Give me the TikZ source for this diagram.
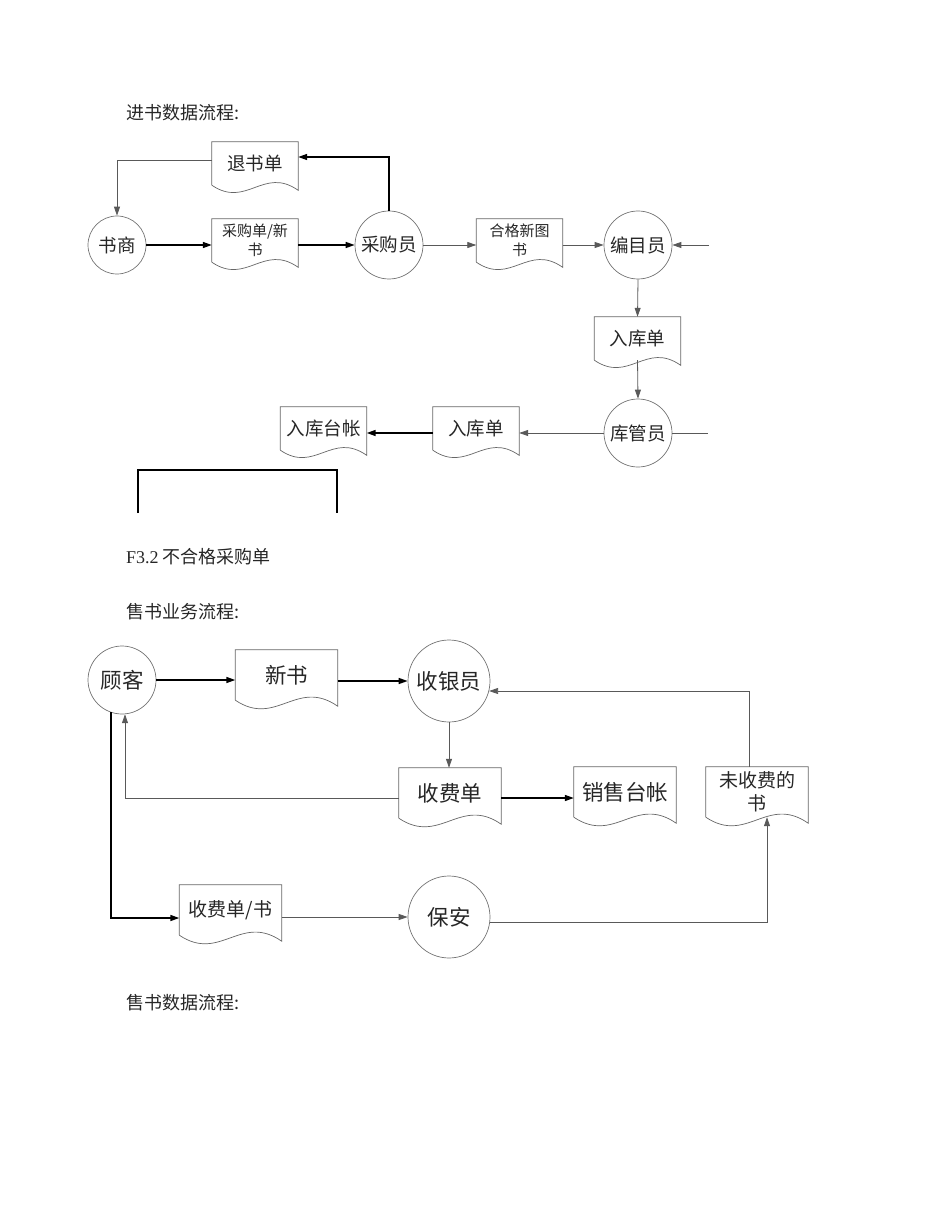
\documentclass[tikz,border=0pt]{standalone}
\usepackage{fontspec}
\setmainfont{Noto Sans CJK SC}
\newfontfamily\serifen{Liberation Serif}
\usetikzlibrary{arrows.meta, calc}

% document symbol: straight top and sides, wavy bottom
\newcommand{\docwave}[2]{%
  \draw[docline] (#1.south west) -- (#1.north west) -- (#1.north east)
    -- ([yshift=-0.12*#2pt]#1.south east)
    .. controls ($(#1.south west)!0.6!(#1.south east)+(0pt,0.45*#2pt)$)
    and ($(#1.south west)!0.4!(#1.south east)+(0pt,-0.55*#2pt)$) .. (#1.south west);}

\begin{document}
\begin{tikzpicture}[x=1pt, y=-1pt,
    every node/.style={text=black!85},
    title/.style={anchor=west, inner sep=0pt, font=\fontsize{18}{20}\selectfont},
    proc/.style={circle, draw=black!55, line width=0.7pt, minimum size=#1, inner sep=0pt, font=\fontsize{18.5}{21}\selectfont},
    bproc/.style={proc=#1, font=\fontsize{21.5}{24}\selectfont},
    docu/.style={minimum width=86pt, minimum height=43pt, inner sep=0pt, align=center, font=\fontsize{18.5}{21}\selectfont},
    bdocu/.style={docu, minimum width=102pt, minimum height=50pt, font=\fontsize{21.5}{24}\selectfont},
    small/.style={font=\fontsize{15}{19}\selectfont},
    mid/.style={font=\fontsize{19}{23}\selectfont},
    docline/.style={draw=black!60, line width=0.7pt},
    arr/.style={-{Triangle[length=9pt,width=6pt]}, line width=0.8pt, black!65},
    arrk/.style={arr, line width=1.5pt, black},
    ln/.style={line width=0.8pt, black!65}
]
\useasboundingbox (0,0) rectangle (950,1230);

\node[title] (t1) at (126,113) {进书数据流程:};
\node[title] (t2) at (126,557) {{\serifen F3.2} 不合格采购单};
\node[title] (t3) at (126,612) {售书业务流程:};
\node[title] (t4) at (126,1003) {售书数据流程:};

% purchase flow
\node[proc=58] (shushang) at (117,245) {书商};
\node[docu] (tuishu) at (255,163.5) {退书单};
\node[docu, small] (caigoudan) at (255,240.5) {采购单/新\\书};
\node[proc=68] (caigouyuan) at (389,245) {采购员};
\node[docu, small] (hege) at (519.5,240.5) {合格新图\\书};
\node[proc=68] (bianmu) at (638,245) {编目员};
\coordinate (bianmuIn) at (709,245);
\node[docu] (rukudanA) at (637.5,338.5) {入库单};
\node[proc=68] (kuguan) at (638,433) {库管员};
\coordinate (kuguanOut) at (708,433);
\node[docu] (rukudanB) at (476,428.5) {入库单};
\node[docu] (taizhang) at (323.5,428.5) {入库台帐};
\foreach \d in {tuishu, caigoudan, hege, rukudanA, rukudanB, taizhang}
    \docwave{\d}{43};

\draw[arr] ([yshift=3.5pt]tuishu.west) -| (shushang.north);
\draw[arrk] (caigouyuan.north) |- ([yshift=6.5pt]tuishu.east);
\draw[arrk] (shushang.east) -- (shushang.east -| caigoudan.west);
\draw[arrk] (caigouyuan.west -| caigoudan.east) -- (caigouyuan.west);
\draw[arr] (caigouyuan.east) -- (caigouyuan.east -| hege.west);
\draw[arr] (bianmu.west -| hege.east) -- (bianmu.west);
\draw[arr] (bianmuIn) -- (bianmu.east);
\draw[arr] (bianmu.south) -- (rukudanA.north);
\draw[arr] (rukudanA.south) -- (kuguan.north);
\draw[ln] (kuguan.east) -- (kuguanOut);
\draw[arr] (kuguan.west) -- (kuguan.west -| rukudanB.east);
\draw[arrk] (kuguan.west -| rukudanB.west) -- (kuguan.west -| taizhang.east);

\draw[line width=1.6pt] (138,513) -- (138,470) -- (337,470) -- (337,513);

% selling flow
\node[bproc=68] (guke) at (122,680) {顾客};
\node[bdocu] (xinshu) at (286.5,675) {新书};
\node[bproc=82] (shouyin) at (449,681) {收银员};
\node[bdocu] (shoufei) at (450,793) {收费单};
\node[bdocu] (xiaoshou) at (625,792) {销售台帐};
\node[bdocu, mid] (weishou) at (757,792) {未收费的\\书};
\node[bproc=82] (baoan) at (449,917) {保安};
\node[bdocu, mid] (shoufeishu) at (230.5,910) {收费单/书};
\foreach \d in {xinshu, shoufei, xiaoshou, weishou, shoufeishu}
    \docwave{\d}{50};

\draw[arrk] (guke.east) -- (guke.east -| xinshu.west);
\draw[arrk] (shouyin.west -| xinshu.east) -- (shouyin.west);
\draw[arr] (shouyin.south) -- (shouyin.south |- shoufei.north);
\draw[arr] ([yshift=-5pt]shoufei.west) -| (guke.-85);
\draw[arrk] (guke.-109) |- ([yshift=-8pt]shoufeishu.west);
\draw[arr] (baoan.west -| shoufeishu.east) -- (baoan.west);
\draw[arrk] ([yshift=-5pt]shoufei.east) -- ([yshift=-5pt]shoufei.east -| xiaoshou.west);
\draw[arr] (baoan.-7) -| ([xshift=10pt]weishou.south);
\draw[arr] ([xshift=-8pt]weishou.north) |- (shouyin.-14);
\end{tikzpicture}
\end{document}
